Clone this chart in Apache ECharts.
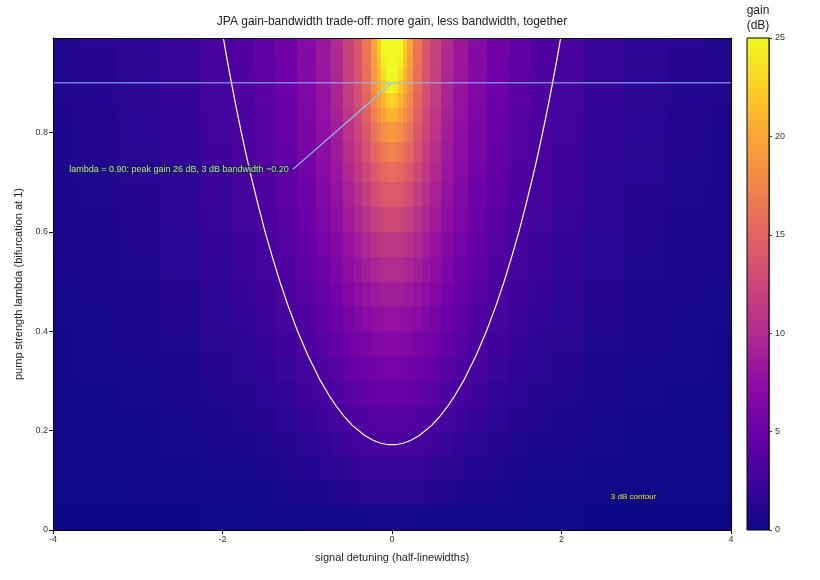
<!DOCTYPE html>
<html>
<head>
<meta charset="utf-8">
<script src="https://cdn.jsdelivr.net/npm/echarts@6/dist/echarts.min.js"></script>
<style>
  html, body { margin: 0; padding: 0; background: #ffffff; }
  #chart { width: 820px; height: 580px; }
</style>
</head>
<body>
<div id="chart"></div>
<script>
// ---------------- DATA ----------------
// Detuning cell centres, non-negative half (mirrored for the negative side)
const detuningHalf = [0, 0.05, 0.1, 0.15, 0.2, 0.3, 0.4, 0.5, 0.65, 0.8, 1.0, 1.25, 1.5, 1.75, 2.0, 2.5, 3.0, 3.5, 4.0];
// Pump-strength (lambda) row edges
const lambdaEdges = [0, 0.05, 0.10, 0.15, 0.20, 0.25, 0.30, 0.35, 0.40, 0.45, 0.50, 0.55, 0.60, 0.65,
                     0.70, 0.74, 0.78, 0.82, 0.85, 0.88, 0.905, 0.93, 0.95, 0.97, 0.99];
// Gain in dB for each lambda row (bottom -> top), across detuningHalf
const gainRows = [
  [0.43,0.43,0.43,0.42,0.42,0.40,0.37,0.35,0.30,0.27,0.22,0.17,0.13,0.11,0.09,0.06,0.04,0.03,0.03],
  [1.31,1.30,1.29,1.28,1.25,1.20,1.12,1.04,0.92,0.79,0.65,0.51,0.40,0.32,0.26,0.18,0.13,0.10,0.08],
  [2.18,2.18,2.16,2.13,2.10,2.00,1.88,1.74,1.53,1.32,1.08,0.85,0.67,0.53,0.43,0.30,0.22,0.16,0.13],
  [3.07,3.06,3.04,3.00,2.95,2.81,2.63,2.44,2.13,1.85,1.51,1.18,0.93,0.74,0.61,0.42,0.30,0.23,0.18],
  [3.98,3.97,3.93,3.88,3.81,3.62,3.39,3.13,2.74,2.37,1.94,1.51,1.19,0.95,0.78,0.54,0.39,0.29,0.23],
  [4.90,4.89,4.85,4.78,4.69,4.45,4.16,3.83,3.35,2.89,2.36,1.84,1.45,1.16,0.95,0.65,0.47,0.36,0.28],
  [5.86,5.84,5.79,5.71,5.59,5.29,4.93,4.54,3.95,3.40,2.77,2.16,1.70,1.37,1.11,0.77,0.56,0.42,0.33],
  [6.85,6.83,6.76,6.66,6.52,6.15,5.71,5.24,4.54,3.90,3.18,2.47,1.95,1.57,1.28,0.88,0.64,0.49,0.38],
  [7.88,7.86,7.77,7.65,7.47,7.03,6.50,5.94,5.13,4.40,3.57,2.78,2.20,1.76,1.44,1.00,0.73,0.55,0.43],
  [8.97,8.94,8.84,8.68,8.46,7.92,7.29,6.66,5.71,4.88,3.96,3.08,2.44,1.96,1.60,1.11,0.81,0.61,0.48],
  [10.13,10.09,9.96,9.76,9.50,8.84,8.09,7.34,6.28,5.35,4.34,3.37,2.67,2.15,1.75,1.22,0.89,0.68,0.53],
  [11.38,11.32,11.16,10.92,10.58,9.78,8.89,8.02,6.83,5.80,4.70,3.66,2.89,2.33,1.90,1.33,0.97,0.74,0.58],
  [12.74,12.66,12.45,12.14,11.71,10.73,9.69,8.69,7.36,6.24,5.04,3.92,3.11,2.51,2.05,1.43,1.05,0.80,0.63],
  [14.24,14.15,13.87,13.44,12.91,11.70,10.48,9.34,7.86,6.65,5.37,4.18,3.32,2.68,2.20,1.54,1.13,0.86,0.67],
  [15.77,15.64,15.26,14.71,14.04,12.58,11.17,9.90,8.29,7.00,5.65,4.40,3.50,2.83,2.32,1.63,1.20,0.91,0.72],
  [17.31,17.13,16.63,15.91,15.07,13.35,11.75,10.37,8.65,7.29,5.88,4.59,3.65,2.96,2.43,1.71,1.26,0.96,0.75],
  [19.09,18.83,18.13,17.18,16.13,14.09,12.30,10.80,8.99,7.56,6.10,4.77,3.80,3.08,2.53,1.79,1.32,1.01,0.79],
  [20.92,20.55,19.58,18.34,17.05,14.70,12.75,11.16,9.26,7.79,6.29,4.92,3.92,3.18,2.62,1.85,1.37,1.05,0.82],
  [22.81,22.25,20.92,19.34,17.81,15.18,13.10,11.43,9.47,7.96,6.43,5.04,4.02,3.27,2.70,1.91,1.41,1.08,0.85],
  [24.91,24.07,22.22,20.25,18.47,15.58,13.39,11.66,9.65,8.12,6.56,5.14,4.11,3.35,2.76,1.96,1.45,1.11,0.87],
  [27.33,25.97,23.41,21.01,19.00,15.90,13.62,11.84,9.80,8.24,6.67,5.24,4.19,3.42,2.82,2.01,1.48,1.14,0.90],
  [30.19,27.91,24.43,21.62,19.41,16.15,13.80,12.00,9.92,8.35,6.76,5.32,4.26,3.48,2.88,2.05,1.52,1.16,0.92],
  [33.80,29.72,25.21,22.05,19.70,16.33,13.94,12.11,10.02,8.44,6.84,5.39,4.32,3.53,2.92,2.08,1.54,1.18,0.93],
  [39.91,31.31,25.77,22.36,19.91,16.47,14.06,12.21,10.12,8.53,6.92,5.45,4.38,3.58,2.97,2.11,1.57,1.21,0.95]
];
// 3 dB gain contour, [detuning, lambda]
const contour3dB = [
  [-1.990,0.99],[-1.949,0.95],[-1.895,0.90],[-1.838,0.85],[-1.778,0.80],[-1.714,0.75],[-1.646,0.70],
  [-1.574,0.65],[-1.497,0.60],[-1.413,0.55],[-1.323,0.50],[-1.224,0.45],[-1.114,0.40],[-0.989,0.35],
  [-0.843,0.30],[-0.740,0.27],[-0.661,0.25],[-0.572,0.23],[-0.465,0.21],[-0.322,0.19],[-0.218,0.18],
  [-0.139,0.175],[-0.072,0.1725],[-0.036,0.1718],[0,0.1716],
  [0.036,0.1718],[0.072,0.1725],[0.139,0.175],[0.218,0.18],[0.322,0.19],[0.465,0.21],[0.572,0.23],
  [0.661,0.25],[0.740,0.27],[0.843,0.30],[0.989,0.35],[1.114,0.40],[1.224,0.45],[1.323,0.50],
  [1.413,0.55],[1.497,0.60],[1.574,0.65],[1.646,0.70],[1.714,0.75],[1.778,0.80],[1.838,0.85],
  [1.895,0.90],[1.949,0.95],[1.990,0.99]
];
const xTicks = [-4, -2, 0, 2, 4];
const yTicks = [0, 0.2, 0.4, 0.6, 0.8];
const colorTicks = [0, 5, 10, 15, 20, 25];
const annotLambda = 0.90;
const annotText = 'lambda = 0.90: peak gain 26 dB, 3 dB bandwidth ~0.20';
const annotAnchor = [-1.2, 0.7256];
const contourLabel = '3 dB contour';
const contourLabelPos = [2.85, 0.066];

// ---------------- styling ----------------
const plasma = ['#0d0887','#41049d','#6a00a8','#8f0da4','#b12a90','#cc4778',
                '#e16462','#f2844b','#fca636','#fcce25','#f0f921'];
const FONT = 'Liberation Sans, Arial, sans-serif';

// ---------------- build cells ----------------
const negCenters = detuningHalf.slice(1).map(v => -v).reverse();
const xCenters = negCenters.concat(detuningHalf);
const colRef = detuningHalf.slice(1).map((v, i) => i + 1).reverse().concat(detuningHalf.map((v, i) => i));
const xEdges = [xCenters[0]];
for (let i = 0; i < xCenters.length - 1; i++) xEdges.push((xCenters[i] + xCenters[i + 1]) / 2);
xEdges.push(xCenters[xCenters.length - 1]);
const cells = [];
for (let r = 0; r < gainRows.length; r++) {
  for (let c = 0; c < xCenters.length; c++) {
    const v = gainRows[r][colRef[c]];
    cells.push([xEdges[c], xEdges[c + 1], lambdaEdges[r], lambdaEdges[r + 1], Math.min(v, 25)]);
  }
}

const chart = echarts.init(document.getElementById('chart'), null, { renderer: 'canvas' });
const xMin = xTicks[0], xMax = xTicks[xTicks.length - 1];
const yMax = lambdaEdges[lambdaEdges.length - 1];

const option = {
  animation: false,
  backgroundColor: '#ffffff',
  textStyle: { fontFamily: FONT },
  grid: [
    { left: 53, right: 89, top: 38, bottom: 50 },
    { left: 747, width: 22, top: 38, bottom: 50 }
  ],
  xAxis: [
    { type: 'value', gridIndex: 0, min: xMin, max: xMax, interval: 2, z: 10,
      name: 'signal detuning (half-linewidths)', nameLocation: 'middle', nameGap: 22,
      nameTextStyle: { fontSize: 11, color: '#222' },
      axisLine: { show: true, onZero: false, lineStyle: { color: '#000', width: 1 } },
      axisTick: { show: true, inside: false, length: 4, lineStyle: { color: '#000' } },
      axisLabel: { fontSize: 9, color: '#333', margin: 5 },
      splitLine: { show: false } },
    { type: 'value', gridIndex: 0, position: 'top', min: xMin, max: xMax, z: 10,
      axisLine: { show: true, onZero: false, lineStyle: { color: '#000', width: 1 } },
      axisTick: { show: false }, axisLabel: { show: false }, splitLine: { show: false } },
    { type: 'value', gridIndex: 1, min: 0, max: 1, show: false }
  ],
  yAxis: [
    { type: 'value', gridIndex: 0, min: 0, max: yMax, interval: 0.2, z: 10,
      name: 'pump strength lambda (bifurcation at 1)', nameLocation: 'middle', nameGap: 28,
      nameTextStyle: { fontSize: 11, color: '#222' },
      axisLine: { show: true, onZero: false, lineStyle: { color: '#000', width: 1 } },
      axisTick: { show: true, inside: false, length: 4, lineStyle: { color: '#000' } },
      axisLabel: { fontSize: 9, color: '#333', margin: 5, showMaxLabel: false },
      splitLine: { show: false } },
    { type: 'value', gridIndex: 0, position: 'right', min: 0, max: yMax, z: 10,
      axisLine: { show: true, onZero: false, lineStyle: { color: '#000', width: 1 } },
      axisTick: { show: false }, axisLabel: { show: false }, splitLine: { show: false } },
    { type: 'value', gridIndex: 1, position: 'right', min: colorTicks[0], max: colorTicks[colorTicks.length - 1],
      interval: 5, z: 10,
      axisLine: { show: true, onZero: false, lineStyle: { color: '#333', width: 1 } },
      axisTick: { show: true, inside: false, length: 3, lineStyle: { color: '#333' } },
      axisLabel: { fontSize: 9, color: '#333', margin: 6 },
      splitLine: { show: false } }
  ],
  visualMap: {
    type: 'continuous', show: false, seriesIndex: 0, dimension: 4,
    min: colorTicks[0], max: colorTicks[colorTicks.length - 1],
    inRange: { color: plasma }
  },
  graphic: [
    { type: 'text', x: 392, y: 16, z: 20,
      style: { text: 'JPA gain-bandwidth trade-off: more gain, less bandwidth, together',
               align: 'center', verticalAlign: 'top', fontSize: 12, fill: '#222', fontFamily: FONT } },
    { type: 'text', x: 758, y: 3, z: 20,
      style: { text: 'gain\n(dB)', align: 'center', verticalAlign: 'top', fontSize: 12, lineHeight: 15,
               fill: '#222', fontFamily: FONT } }
  ],
  series: [
    {
      name: 'gain', type: 'custom', xAxisIndex: 0, yAxisIndex: 0, clip: true,
      encode: { x: [0, 1], y: [2, 3] },
      data: cells,
      renderItem: function (params, api) {
        const p0 = api.coord([api.value(0), api.value(3)]);
        const p1 = api.coord([api.value(1), api.value(2)]);
        const x0 = Math.round(p0[0]), x1 = Math.round(p1[0]);
        const y0 = Math.round(p0[1]), y1 = Math.round(p1[1]);
        return {
          type: 'rect',
          shape: { x: x0, y: y0, width: x1 - x0, height: y1 - y0 },
          style: { fill: api.visual('color'), stroke: null, lineWidth: 0 }
        };
      },
      z: 1
    },
    {
      name: '3 dB contour', type: 'line', xAxisIndex: 0, yAxisIndex: 0,
      data: contour3dB, showSymbol: false, symbol: 'none', smooth: false,
      lineStyle: { color: '#ffffff', width: 1.2 }, z: 5, silent: true
    },
    {
      name: 'lambda line', type: 'line', xAxisIndex: 0, yAxisIndex: 0,
      data: [[xMin, annotLambda], [xMax, annotLambda]], symbol: 'none',
      lineStyle: { color: 'rgba(150,195,250,0.65)', width: 1.5 }, z: 6, silent: true
    },
    {
      name: 'annotations', type: 'scatter', xAxisIndex: 0, yAxisIndex: 0,
      symbolSize: 1, itemStyle: { color: 'rgba(0,0,0,0)' }, z: 8, silent: true,
      data: [
        { value: annotAnchor, label: { show: true, position: 'left', distance: 1, formatter: annotText,
            fontSize: 9, color: '#eef8f8', textBorderColor: '#14263a', textBorderWidth: 2, fontFamily: FONT } },
        { value: contourLabelPos, label: { show: true, position: 'inside', formatter: contourLabel,
            fontSize: 8, color: '#fafae6', textBorderColor: '#1a1a2a', textBorderWidth: 2, fontFamily: FONT } }
      ],
      markLine: {
        silent: true, animation: false,
        symbol: ['none', 'arrow'], symbolSize: [0, 7],
        label: { show: false },
        lineStyle: { color: '#87ceeb', width: 1.1, type: 'solid' },
        data: [[{ coord: [annotAnchor[0] + 0.03, annotAnchor[1]] }, { coord: [0, annotLambda] }]]
      }
    },
    {
      name: 'colorbar', type: 'custom', xAxisIndex: 2, yAxisIndex: 2,
      data: [[0, 1, colorTicks[0], colorTicks[colorTicks.length - 1]]],
      encode: { x: [0, 1], y: [2, 3] },
      renderItem: function (params, api) {
        const p0 = api.coord([api.value(0), api.value(3)]);
        const p1 = api.coord([api.value(1), api.value(2)]);
        const stops = plasma.map((c, i) => ({ offset: 1 - i / (plasma.length - 1), color: c })).reverse();
        return {
          type: 'rect',
          shape: { x: p0[0], y: p0[1], width: p1[0] - p0[0], height: p1[1] - p0[1] },
          style: { fill: new echarts.graphic.LinearGradient(0, 0, 0, 1, stops), stroke: '#000', lineWidth: 1 }
        };
      },
      z: 2
    }
  ]
};
chart.setOption(option);
</script>
</body>
</html>
